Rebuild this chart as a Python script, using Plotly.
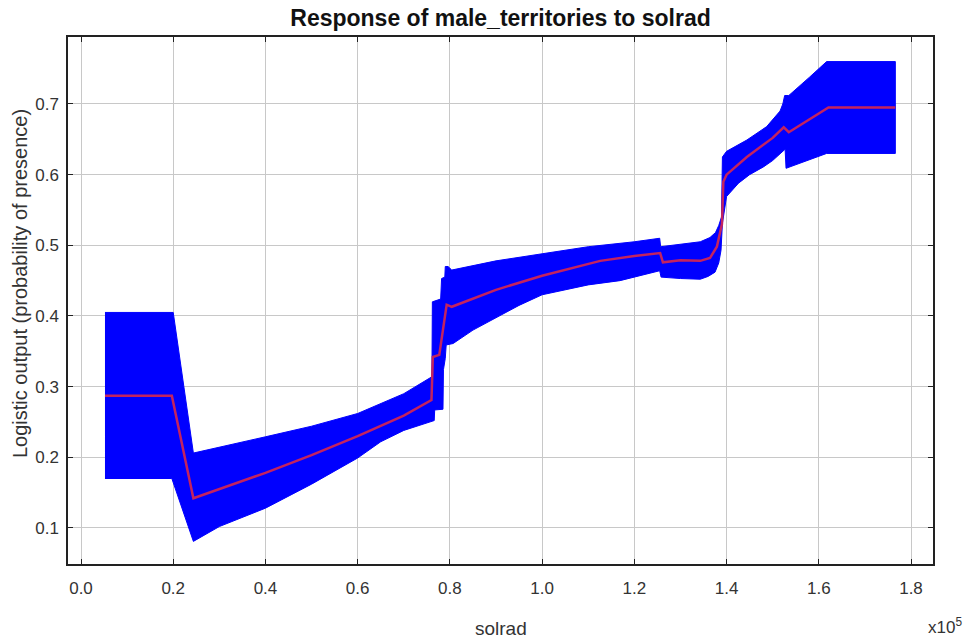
import plotly.graph_objects as go

# x in units of 1e5
upper_x = [0.052, 0.200, 0.2437, 0.30, 0.40, 0.50, 0.60, 0.70, 0.757, 0.761, 0.762, 0.780, 0.782, 0.789,
           0.790, 0.796, 0.804, 0.90, 1.00, 1.10, 1.20, 1.255, 1.257, 1.30, 1.343, 1.364, 1.376, 1.383,
           1.389, 1.391, 1.40, 1.444, 1.487, 1.516, 1.522, 1.526, 1.535, 1.58, 1.617, 1.766]
upper_y = [0.405, 0.405, 0.206, 0.214, 0.229, 0.244, 0.262, 0.290, 0.312, 0.314, 0.420, 0.424, 0.453, 0.455,
           0.470, 0.470, 0.465, 0.478, 0.488, 0.498, 0.505, 0.510, 0.498, 0.502, 0.505, 0.511, 0.518, 0.528,
           0.540, 0.625, 0.633, 0.649, 0.668, 0.690, 0.700, 0.712, 0.712, 0.738, 0.760, 0.760]

lower_x = [0.052, 0.197, 0.2437, 0.30, 0.40, 0.50, 0.60, 0.65, 0.70, 0.757, 0.766, 0.767, 0.785, 0.786,
           0.790, 0.792, 0.807, 0.85, 0.90, 0.95, 1.00, 1.10, 1.169, 1.255, 1.258, 1.30, 1.343, 1.36,
           1.375, 1.383, 1.388, 1.391, 1.40, 1.426, 1.45, 1.48, 1.50, 1.527, 1.529, 1.56, 1.617, 1.766]
lower_y = [0.170, 0.170, 0.081, 0.102, 0.128, 0.162, 0.199, 0.222, 0.238, 0.250, 0.252, 0.267, 0.268, 0.324,
           0.340, 0.359, 0.361, 0.380, 0.398, 0.415, 0.430, 0.444, 0.450, 0.464, 0.455, 0.453, 0.452, 0.456,
           0.462, 0.475, 0.493, 0.531, 0.569, 0.588, 0.600, 0.611, 0.620, 0.636, 0.609, 0.617, 0.630, 0.630]

mean_x = [0.052, 0.197, 0.2437, 0.30, 0.40, 0.50, 0.60, 0.70, 0.757, 0.760, 0.763, 0.777, 0.793, 0.804,
          0.90, 1.00, 1.126, 1.20, 1.256, 1.262, 1.30, 1.343, 1.364, 1.379, 1.390, 1.393, 1.40, 1.444,
          1.50, 1.524, 1.535, 1.58, 1.621, 1.766]
mean_y = [0.287, 0.287, 0.142, 0.155, 0.178, 0.203, 0.230, 0.259, 0.281, 0.281, 0.342, 0.345, 0.416, 0.413,
          0.437, 0.457, 0.478, 0.485, 0.489, 0.476, 0.479, 0.478, 0.482, 0.498, 0.530, 0.590, 0.600, 0.625,
          0.652, 0.667, 0.660, 0.678, 0.695, 0.695]

x_ticks = [0.0, 0.2, 0.4, 0.6, 0.8, 1.0, 1.2, 1.4, 1.6, 1.8]
y_ticks = [0.1, 0.2, 0.3, 0.4, 0.5, 0.6, 0.7]

FONT = "Liberation Sans Narrow, Liberation Sans, Arial"

fig = go.Figure()
fig.add_trace(go.Scatter(
    x=upper_x + lower_x[::-1], y=upper_y + lower_y[::-1],
    fill="toself", fillcolor="#0000ff", mode="lines",
    line=dict(color="#0000ff", width=1), hoverinfo="skip", showlegend=False))
fig.add_trace(go.Scatter(
    x=mean_x, y=mean_y, mode="lines",
    line=dict(color="rgb(195,35,95)", width=2.5), showlegend=False))

tickfont = dict(family=FONT, size=17, color="#333333")
axis_common = dict(showline=True, linecolor="#222222", linewidth=1.5, mirror="ticks",
                   ticks="inside", ticklen=5, tickcolor="#222222", tickwidth=1,
                   showgrid=True, gridcolor="#c8c8c8", gridwidth=1.2, zeroline=False,
                   tickfont=tickfont)

fig.update_layout(
    width=971, height=643,
    margin=dict(l=68, r=38, t=37, b=79),
    paper_bgcolor="white", plot_bgcolor="white",
    title=dict(text="<b>Response of male_territories to solrad</b>",
               x=0.5155, xanchor="center", y=1 - 18 / 643, yanchor="middle",
               font=dict(family=FONT, size=23, color="#111111")),
    xaxis=dict(range=[-0.0282, 1.8477], tickvals=x_ticks, ticktext=[f"{v:.1f}" for v in x_ticks],
               ticklabelstandoff=8, **axis_common),
    yaxis=dict(range=[0.049, 0.7948], tickvals=y_ticks, ticktext=[f"{v:.1f}" for v in y_ticks],
               ticklabelstandoff=4, **axis_common),
    annotations=[
        dict(text="solrad", xref="paper", yref="paper", x=0.5, y=-64 / 527, yanchor="middle",
             showarrow=False, font=dict(family=FONT, size=19, color="#333333")),
        dict(text="x10<sup>5</sup>", xref="paper", yref="paper", x=1.0 + 12 / 865, y=-62 / 527,
             xanchor="center", yanchor="middle", showarrow=False,
             font=dict(family=FONT, size=17, color="#333333")),
        dict(text="Logistic output (probability of presence)", xref="paper", yref="paper",
             x=-48 / 865, y=(564 - 284) / 527, textangle=-90, xanchor="center", yanchor="middle",
             showarrow=False, font=dict(family=FONT, size=20, color="#333333")),
    ],
)

fig.write_html("out.html")
